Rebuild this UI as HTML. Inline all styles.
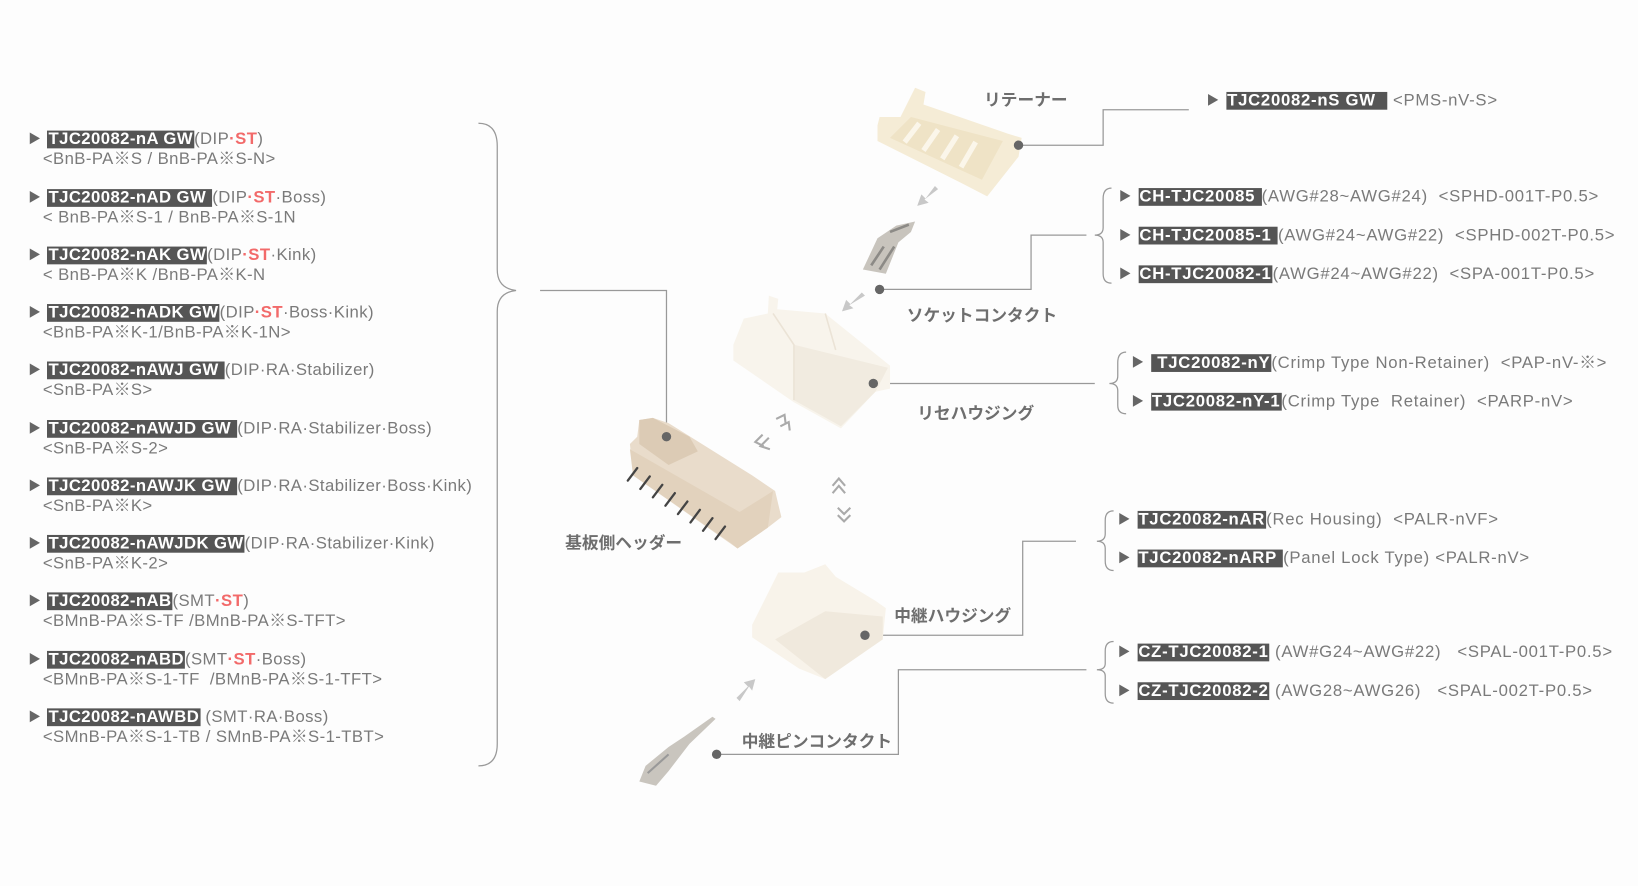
<!DOCTYPE html>
<html><head><meta charset="utf-8"><style>
html,body{margin:0;padding:0;background:#fdfdfd;}
#w{position:absolute;left:0;top:0;width:1568px;height:848px;transform-origin:0 0;transform:scale(1.04464,1.04481);overflow:hidden;font-family:"Liberation Sans","Noto Sans CJK JP",sans-serif;color:#7a7a7a;}
.t{position:absolute;white-space:nowrap;font-size:16px;line-height:19px;letter-spacing:0.4px;}
.rt{letter-spacing:0.7px;}
.h{background:#555;color:#fff;font-weight:bold;padding:0 1px;}
.r{color:#f26a6a;font-weight:bold;}
.a{font-size:12px;color:#666;margin-right:6px;position:relative;top:-1px;}
.lb{position:absolute;white-space:nowrap;font-size:16px;font-weight:bold;color:#6e6e6e;font-family:"Noto Sans CJK JP",sans-serif;}
</style></head><body><div id="w">
<svg width="1568" height="848" style="position:absolute;left:0;top:0">
<g fill="none" stroke="#999" stroke-width="1.2">
<path d="M458,118 Q476,118 476,140 L476,258 Q476,276 494,278 Q476,280 476,298 L476,712 Q476,733 458,733"/>
<path d="M517,278 L638,278 L638,418"/>
<path d="M975,139 L1056,139 L1056,105 L1138,105"/>
<path d="M842,277 L987,277 L987,225 L1040,225"/>
<path d="M1064,180 Q1056,180 1056,190 L1056,218 Q1056,225 1048,225 Q1056,225 1056,232 L1056,262 Q1056,271 1064,271"/>
<path d="M836,367 L1048,367"/>
<path d="M1078,337 Q1070,337 1070,347 L1070,360 Q1070,367 1062,367 Q1070,367 1070,374 L1070,388 Q1070,396 1078,396"/>
<path d="M828,608 L979,608 L979,518 L1030,518"/>
<path d="M1066,489 Q1058,489 1058,498 L1058,511 Q1058,518 1050,518 Q1058,518 1058,525 L1058,537 Q1058,546 1066,546"/>
<path d="M686,722 L860,722 L860,641 L1040,641"/>
<path d="M1066,614 Q1058,614 1058,623 L1058,635 Q1058,641 1050,641 Q1058,641 1058,647 L1058,664 Q1058,673 1066,673"/>
</g>
<!-- retainer -->
<polygon points="840,120 842,112 862,112 876,84 886,88 884,100 965,128 978,132 975,150 945,188 920,175 840,135" fill="#f5ecd6"/>
<polygon points="872,112 960,135 940,172 852,132" fill="#efe3c6"/>
<g stroke="#fbf6ea" stroke-width="5"><path d="M880,118 L866,136 M898,124 L884,144 M916,130 L902,152 M934,136 L920,160"/></g>
<!-- socket contact -->
<path d="M826,258 L840,228 L858,216 L876,212 L872,222 L860,232 L848,262 Z" fill="#c8c4bd"/>
<path d="M834,254 L846,236 M842,258 L856,236 M852,222 L870,215" stroke="#8c8a86" stroke-width="2.5"/>
<!-- rece housing -->
<polygon points="702,330 712,305 735,300 736,283 745,286 744,296 790,300 852,350 852,372 838,375 805,410 760,385 702,345" fill="#f8f4ec"/>
<polygon points="760,330 850,352 838,375 805,408 760,383" fill="#f1ebe0"/>
<path d="M740,300 L760,330 L760,383 M790,300 L800,335" stroke="#ebe3d6" stroke-width="1.5" fill="none"/>
<!-- header -->
<polygon points="603,425 610,418 612,402 625,400 640,405 720,455 742,470 748,495 735,505 706,525 606,455" fill="#e9dccb"/>
<polygon points="612,402 625,400 660,418 668,432 640,445 612,425" fill="#dccbb5"/>
<polygon points="606,455 700,520 706,525 735,505 740,470 708,490 603,430" fill="#e2d2bd"/>
<g stroke="#444" stroke-width="2.2" stroke-linecap="round">
<path d="M610,448 L601,460 M622,456 L613,468 M634,464 L625,476 M646,472 L637,484 M658,480 L649,492 M670,488 L661,500 M682,496 L673,508 M694,504 L685,516"/>
</g>
<!-- relay housing -->
<polygon points="720,598 745,548 770,548 790,540 800,552 838,575 848,582 845,612 790,650 765,640 720,610" fill="#f8f3ea"/>
<polygon points="742,612 790,585 845,590 845,612 790,650" fill="#f0e9dd"/>
<!-- pin contact -->
<path d="M612,748 L618,733 L640,715 L655,705 L682,686 L685,688 L660,712 L640,738 L628,752 Z" fill="#c9c5be"/>
<path d="M620,740 L640,722" stroke="#999" stroke-width="2"/>
<!-- arrows -->
<g fill="#c8c8c8">
<polygon points="895,178 886,190 882,186 878,197 889,194 885,191 898,181"/>
<polygon points="825,280 814,291 810,287 806,298 817,295 813,292 828,283"/>
<polygon points="705,668 716,657 712,653 723,650 720,661 717,657 708,671"/>
</g>
<g fill="none" stroke="#aaa" stroke-width="2">
<path d="M743,401 L751,397 L752,405 M747,408 L755,404 L756,412"/>
<path d="M736,419 L728,427 L737,430 M730,416 L723,423 L731,427"/>
<path d="M797,465 L803,458 L809,465 M797,472 L803,465 L809,472"/>
<path d="M802,486 L808,492 L814,486 M802,493 L808,499 L814,493"/>
</g>
<g fill="#666">
<circle cx="638" cy="418" r="4.5"/><circle cx="975" cy="139" r="4.5"/><circle cx="842" cy="277" r="4.5"/>
<circle cx="836" cy="367" r="4.5"/><circle cx="828" cy="608" r="4.5"/><circle cx="686" cy="722" r="4.5"/>
</g>
</svg>

<div class="lb" style="left:942px;top:82px">リテーナー</div>
<div class="lb" style="left:868px;top:288px">ソケットコンタクト</div>
<div class="lb" style="left:878px;top:382px">リセハウジング</div>
<div class="lb" style="left:541px;top:506px">基板側ヘッダー</div>
<div class="lb" style="left:856px;top:576px">中継ハウジング</div>
<div class="lb" style="left:710px;top:696px">中継ピンコンタクト</div>

<div class="t" style="left:27px;top:124px"><span class="a">▶</span><span class="h">TJC20082-nA GW</span>(DIP<span class="r">·ST</span>)</div>
<div class="t" style="left:41px;top:143px">&lt;BnB-PA※S / BnB-PA※S-N&gt;</div>
<div class="t" style="left:27px;top:180px"><span class="a">▶</span><span class="h">TJC20082-nAD GW </span>(DIP<span class="r">·ST</span>·Boss)</div>
<div class="t" style="left:41px;top:199px">&lt; BnB-PA※S-1 / BnB-PA※S-1N</div>
<div class="t" style="left:27px;top:235px"><span class="a">▶</span><span class="h">TJC20082-nAK GW</span>(DIP<span class="r">·ST</span>·Kink)</div>
<div class="t" style="left:41px;top:254px">&lt; BnB-PA※K /BnB-PA※K-N</div>
<div class="t" style="left:27px;top:290px"><span class="a">▶</span><span class="h">TJC20082-nADK GW</span>(DIP<span class="r">·ST</span>·Boss·Kink)</div>
<div class="t" style="left:41px;top:309px">&lt;BnB-PA※K-1/BnB-PA※K-1N&gt;</div>
<div class="t" style="left:27px;top:345px"><span class="a">▶</span><span class="h">TJC20082-nAWJ GW </span>(DIP·RA·Stabilizer)</div>
<div class="t" style="left:41px;top:364px">&lt;SnB-PA※S&gt;</div>
<div class="t" style="left:27px;top:401px"><span class="a">▶</span><span class="h">TJC20082-nAWJD GW </span>(DIP·RA·Stabilizer·Boss)</div>
<div class="t" style="left:41px;top:420px">&lt;SnB-PA※S-2&gt;</div>
<div class="t" style="left:27px;top:456px"><span class="a">▶</span><span class="h">TJC20082-nAWJK GW </span>(DIP·RA·Stabilizer·Boss·Kink)</div>
<div class="t" style="left:41px;top:475px">&lt;SnB-PA※K&gt;</div>
<div class="t" style="left:27px;top:511px"><span class="a">▶</span><span class="h">TJC20082-nAWJDK GW</span>(DIP·RA·Stabilizer·Kink)</div>
<div class="t" style="left:41px;top:530px">&lt;SnB-PA※K-2&gt;</div>
<div class="t" style="left:27px;top:566px"><span class="a">▶</span><span class="h">TJC20082-nAB</span>(SMT<span class="r">·ST</span>)</div>
<div class="t" style="left:41px;top:585px">&lt;BMnB-PA※S-TF /BMnB-PA※S-TFT&gt;</div>
<div class="t" style="left:27px;top:622px"><span class="a">▶</span><span class="h">TJC20082-nABD</span>(SMT<span class="r">·ST</span>·Boss)</div>
<div class="t" style="left:41px;top:641px">&lt;BMnB-PA※S-1-TF &nbsp;/BMnB-PA※S-1-TFT&gt;</div>
<div class="t" style="left:27px;top:677px"><span class="a">▶</span><span class="h">TJC20082-nAWBD</span> (SMT·RA·Boss)</div>
<div class="t" style="left:41px;top:696px">&lt;SMnB-PA※S-1-TB / SMnB-PA※S-1-TBT&gt;</div>

<div class="t rt" style="left:1155px;top:87px"><span class="a">▶</span><span class="h">TJC20082-nS GW &nbsp;</span> &lt;PMS-nV-S&gt;</div>
<div class="t rt" style="left:1071px;top:179px"><span class="a">▶</span><span class="h">CH-TJC20085 </span>(AWG#28~AWG#24) &nbsp;&lt;SPHD-001T-P0.5&gt;</div>
<div class="t rt" style="left:1071px;top:216px"><span class="a">▶</span><span class="h">CH-TJC20085-1 </span>(AWG#24~AWG#22) &nbsp;&lt;SPHD-002T-P0.5&gt;</div>
<div class="t rt" style="left:1071px;top:253px"><span class="a">▶</span><span class="h">CH-TJC20082-1</span>(AWG#24~AWG#22) &nbsp;&lt;SPA-001T-P0.5&gt;</div>
<div class="t rt" style="left:1083px;top:338px"><span class="a">▶</span><span class="h"> TJC20082-nY</span>(Crimp Type Non-Retainer) &nbsp;&lt;PAP-nV-※&gt;</div>
<div class="t rt" style="left:1083px;top:375px"><span class="a">▶</span><span class="h">TJC20082-nY-1</span>(Crimp Type &nbsp;Retainer) &nbsp;&lt;PARP-nV&gt;</div>
<div class="t rt" style="left:1070px;top:488px"><span class="a">▶</span><span class="h">TJC20082-nAR</span>(Rec Housing) &nbsp;&lt;PALR-nVF&gt;</div>
<div class="t rt" style="left:1070px;top:525px"><span class="a">▶</span><span class="h">TJC20082-nARP </span>(Panel Lock Type) &lt;PALR-nV&gt;</div>
<div class="t rt" style="left:1070px;top:615px"><span class="a">▶</span><span class="h">CZ-TJC20082-1</span> (AW#G24~AWG#22) &nbsp;&nbsp;&lt;SPAL-001T-P0.5&gt;</div>
<div class="t rt" style="left:1070px;top:652px"><span class="a">▶</span><span class="h">CZ-TJC20082-2</span> (AWG28~AWG26) &nbsp;&nbsp;&lt;SPAL-002T-P0.5&gt;</div>
</div></body></html>
